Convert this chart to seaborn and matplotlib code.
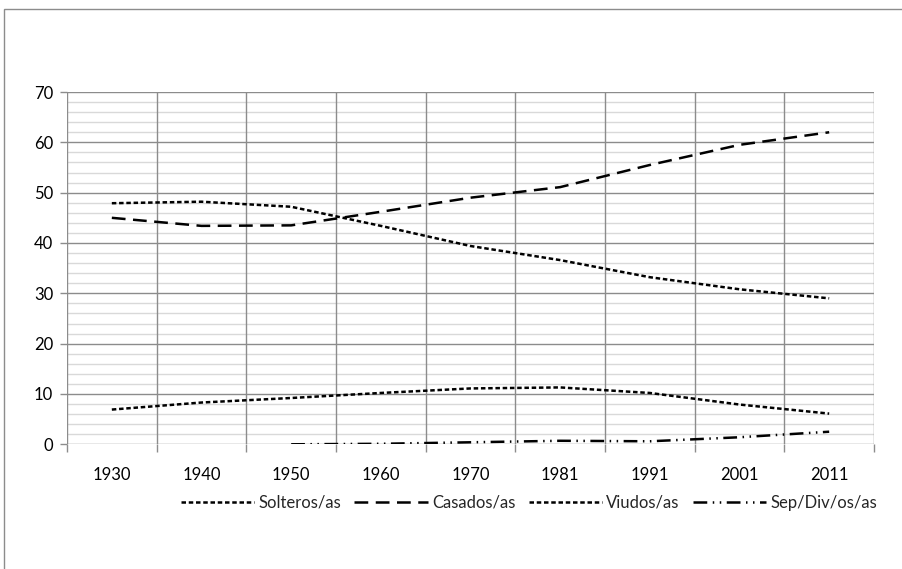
import seaborn as sns
import matplotlib.pyplot as plt
import pandas as pd
import numpy as np
from matplotlib.patches import Rectangle

# data
years = ["1930", "1940", "1950", "1960", "1970", "1981", "1991", "2001", "2011"]
solteros = [47.9, 48.2, 47.2, 43.4, 39.4, 36.6, 33.2, 30.8, 29.0]
casados = [45.0, 43.4, 43.5, 46.2, 49.0, 51.1, 55.5, 59.5, 62.0]
viudos = [6.9, 8.3, 9.2, 10.2, 11.1, 11.3, 10.2, 7.9, 6.1]
sepdiv = [np.nan, np.nan, 0.0, 0.1, 0.4, 0.7, 0.6, 1.4, 2.5]
series_names = ["Solteros/as", "Casados/as", "Viudos/as", "Sep/Div/os/as"]

wide = pd.DataFrame({
    "pos": range(len(years)),
    "Solteros/as": solteros,
    "Casados/as": casados,
    "Viudos/as": viudos,
    "Sep/Div/os/as": sepdiv,
})
df = wide.melt(id_vars="pos", var_name="serie", value_name="valor").dropna()

sns.set_theme(style="white")
plt.rcParams["font.family"] = ["Lato", "DejaVu Sans"]

fig = plt.figure(figsize=(9.02, 5.69), dpi=100)
ax = fig.add_axes([67 / 902, 1 - 444.3 / 569, (874 - 67) / 902, (444.3 - 92) / 569])

dashes = {
    "Solteros/as": (1.8, 1.1),
    "Casados/as": (5.5, 3.0),
    "Viudos/as": (1.8, 1.1),
    "Sep/Div/os/as": (5.5, 2.2, 0.6, 2.2, 0.6, 2.2),
}
palette = {s: "black" for s in series_names}

sns.lineplot(data=df, x="pos", y="valor", hue="serie", style="serie",
             hue_order=series_names, style_order=series_names,
             palette=palette, dashes=dashes, linewidth=1.8, ax=ax)

# grid: minor every 2, major every 10, vertical at category boundaries
ax.set_ylim(0, 70)
ax.set_xlim(-0.5, len(years) - 0.5)
ax.set_yticks(range(0, 71, 10))
ax.set_yticks(range(0, 71, 2), minor=True)
for v in range(0, 71, 2):
    if v % 10:
        ax.axhline(v, color="#d9d9d9", lw=1, zorder=0)
for v in range(0, 71, 10):
    ax.axhline(v, color="#8c8c8c", lw=1, zorder=0.5)
for b in np.arange(-0.5, len(years), 1.0):
    ax.axvline(b, color="#8c8c8c", lw=1, zorder=0.5)

ax.set_xticks(range(len(years)))
ax.set_xticklabels(years)
ax.tick_params(axis="x", which="major", length=0, pad=16, labelsize=12, colors="black")
ax.tick_params(axis="y", which="major", length=5, width=1, color="#8c8c8c",
               left=True, pad=5, labelsize=12, colors="black")
ax.tick_params(axis="y", which="minor", length=0)
# x tick marks at category boundaries below the axis
ax.set_xticks(np.arange(-0.5, len(years), 1.0), minor=True)
ax.tick_params(axis="x", which="minor", length=6, width=1, color="#8c8c8c", bottom=True)

for s in ax.spines.values():
    s.set_visible(False)
ax.set_xlabel("")
ax.set_ylabel("")

handles, labels = ax.get_legend_handles_labels()
ax.legend(handles, labels, loc="center", bbox_to_anchor=(529 / 902, 1 - 503 / 569),
          bbox_transform=fig.transFigure, ncol=4, frameon=False, fontsize=12,
          handlelength=4.4, handletextpad=0.25, columnspacing=0.8)

# outer chart border
fig.patches.append(Rectangle((4 / 902, -0.1), 1.2, 1.1 - 9 / 569,
                             transform=fig.transFigure, fill=False,
                             edgecolor="#8c8c8c", lw=1))

fig.savefig("out.png", dpi=100)
